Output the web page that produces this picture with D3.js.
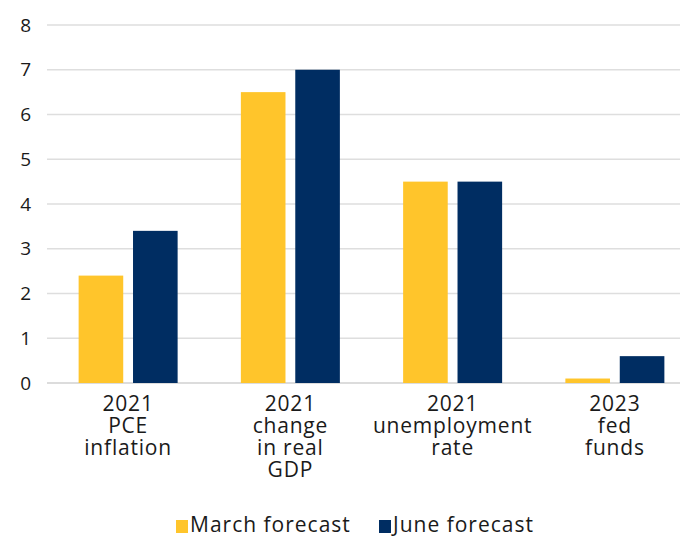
<!DOCTYPE html>
<html>
<head>
<meta charset="utf-8">
<script src="https://cdn.jsdelivr.net/npm/d3@7"></script>
<style>
  body { margin: 0; background: #fff; }
  svg text { font-family: "Open Sans", "Noto Sans", sans-serif; fill: #1a1a1a; }
</style>
</head>
<body>
<svg id="chart" width="680" height="536"></svg>
<script>
var categories = [
  ["2021", "PCE", "inflation"],
  ["2021", "change", "in real", "GDP"],
  ["2021", "unemployment", "rate"],
  ["2023", "fed", "funds"]
];
var seriesNames = ["March forecast", "June forecast"];
var marchValues = [2.4, 6.5, 4.5, 0.1];
var juneValues = [3.4, 7.0, 4.5, 0.6];
var yTicks = [0, 1, 2, 3, 4, 5, 6, 7, 8];
var colors = ["#ffc52b", "#002d62"];

var svg = d3.select("#chart");
var y = d3.scaleLinear().domain([0, 8]).range([383, 25]);
var x0 = d3.scaleBand().domain(d3.range(categories.length)).range([47, 696]).paddingInner(0).paddingOuter(0);
var x1 = d3.scaleBand().domain([0, 1]).range([x0.bandwidth() / 2 - 49.5, x0.bandwidth() / 2 + 49.5]).paddingInner(0.18);

// gridlines
svg.append("g").selectAll("line").data(yTicks).join("line")
  .attr("x1", 47).attr("x2", 680)
  .attr("y1", function(d) { return y(d); }).attr("y2", function(d) { return y(d); })
  .attr("stroke", function(d) { return d === 0 ? "#d0d0d0" : "#dedede"; })
  .attr("stroke-width", 1.5);

// y labels
svg.append("g").selectAll("text").data(yTicks).join("text")
  .attr("x", 31).attr("y", function(d) { return y(d); })
  .attr("dy", "0.35em").attr("text-anchor", "end")
  .style("font-size", "19px")
  .text(function(d) { return d; });

var rows = [marchValues, juneValues];
rows.forEach(function(vals, s) {
  svg.append("g").selectAll("rect").data(vals).join("rect")
    .attr("x", function(d, i) { return x0(i) + x1(s); })
    .attr("width", x1.bandwidth())
    .attr("y", function(d) { return y(d); })
    .attr("height", function(d) { return y(0) - y(d); })
    .attr("fill", colors[s]);
});

// category labels
var lab = svg.append("g").selectAll("text").data(categories).join("text")
  .attr("text-anchor", "middle")
  .style("font-size", "21px")
  .style("letter-spacing", "0.8px");
lab.each(function(lines, i) {
  var t = d3.select(this);
  lines.forEach(function(l, k) {
    t.append("tspan")
      .attr("x", x0(i) + x0.bandwidth() / 2)
      .attr("y", 411 + k * 22)
      .text(l);
  });
});

// legend
var legX = [176, 379];
var leg = svg.append("g");
seriesNames.forEach(function(n, i) {
  leg.append("rect").attr("x", legX[i]).attr("y", 520).attr("width", 12).attr("height", 13).attr("fill", colors[i]);
  leg.append("text").attr("x", legX[i] + 14).attr("y", 532)
    .style("font-size", "21px").style("letter-spacing", "1px").text(n);
});
</script>
</body>
</html>
